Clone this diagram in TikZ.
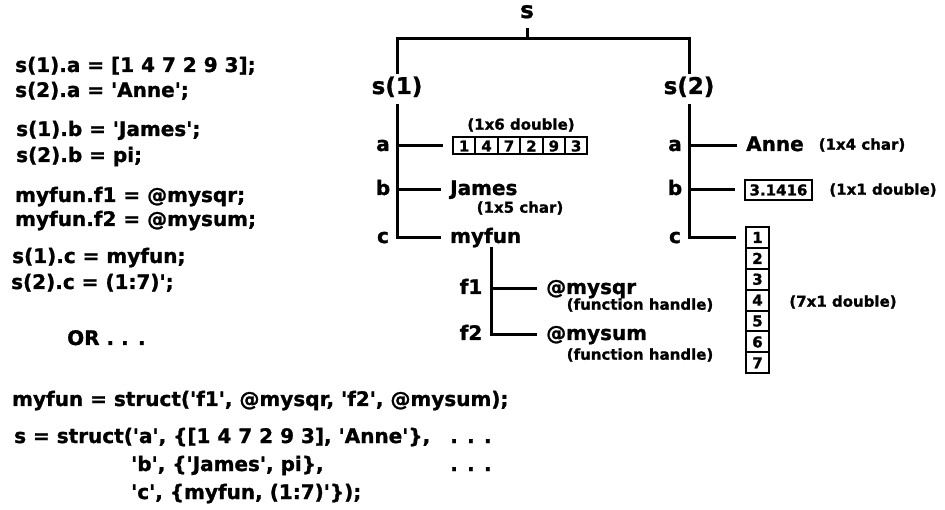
\documentclass[tikz,border=0pt]{standalone}
\usepackage{fontspec}
\setmainfont{DejaVu Sans}[BoldFeatures={FakeBold=1.2}]
\usetikzlibrary{positioning}
\newcommand{\apos}{\textquotesingle}
\tikzset{
codeline/.style={anchor=west,inner sep=0pt,font=\fontsize{20}{24}\selectfont\bfseries,text height=15pt,text depth=5pt},
heading/.style={inner sep=3.5pt,font=\fontsize{23}{26}\selectfont\bfseries,text height=16pt,text depth=6pt},
field/.style={inner sep=0pt,font=\fontsize{20}{24}\selectfont\bfseries,text height=14pt,text depth=4pt},
value/.style={field,anchor=west},
note/.style={inner sep=0pt,font=\fontsize{15}{17}\selectfont\bfseries},
cell/.style={draw,line width=2pt,inner sep=0pt,minimum width=22.4pt,minimum height=17pt,font=\fontsize{15}{17}\selectfont\bfseries},
branch/.style={line width=3pt},
stub/.style={branch,shorten >=9pt},
}

\begin{document}
\begin{tikzpicture}[x=1pt,y=-1pt]
    \useasboundingbox (0,0) rectangle (945,510);

    \node[codeline] (l1) at (15,67) {s(1).a = [1 4 7 2 9 3];};
    \node[codeline] (l2) at (15,92) {s(2).a = \apos Anne\apos;};
    \node[codeline] (l3) at (16,131) {s(1).b = \apos James\apos;};
    \node[codeline] (l4) at (16,157) {s(2).b = pi;};
    \node[codeline] (l5) at (15,197) {myfun.f1 = @mysqr;};
    \node[codeline] (l6) at (15,221) {myfun.f2 = @mysum;};
    \node[codeline] (l7) at (12,258) {s(1).c = myfun;};
    \node[codeline] (l8) at (11,284) {s(2).c = (1:7)\apos;};
    \node[codeline] (or) at (67,340) {OR . . .};

    \node[codeline] (m1) at (12,401) {myfun = struct(\apos f1\apos, @mysqr, \apos f2\apos, @mysum);};
    \node[codeline] (m2) at (14,438) {s = struct(\apos a\apos, \{[1 4 7 2 9 3], \apos Anne\apos\},};
    \node[codeline] (m3) at (131,466) {\apos b\apos, \{\apos James\apos, pi\},};
    \node[codeline] (m4) at (131,494) {\apos c\apos, \{myfun, (1:7)\apos\});};
    \node[codeline] (dots1) at (450,438) {. . .};
    \node[codeline] (dots2) at (450,466) {. . .};

    \node[heading] (s) at (527,13) {s};
    \node[heading] (s1) at (397,89) {s(1)};
    \node[heading] (s2) at (689,89) {s(2)};
    \coordinate (top) at (527,39);
    \draw[branch] (s) -- (top);
    \draw[branch] (s1) |- (top) -| (s2);

    \node[field] (fa1) at (383,146) {a};
    \node[field] (fb1) at (383,190) {b};
    \node[field] (fc1) at (383,238) {c};
    \foreach \v [count=\i] in {1,4,7,2,9,3}
        \node[cell] (arr\i) at ({453+22.4*(\i-0.5)},146) {\v};
    \node[note] (arrnote) at (521,125) {(1x6 double)};
    \node[value] (james) at (450,190) {James};
    \node[note] (jamesnote) at (520,208) {(1x5 char)};
    \node[value] (myfun) at (450,238) {myfun};

    \draw[stub] (s1) |- (myfun.west);
    \draw[stub] (s1 |- arr1) -- (arr1.west);
    \draw[stub] (s1 |- james) -- (james.west);

    \coordinate (fjoint) at ([xshift=5.5pt]myfun.south);
    \node[field] (f1) at (471,289) {f1};
    \node[field] (f2) at (471,335) {f2};
    \node[value] (mysqr) at (546,289) {@mysqr};
    \node[note] (sqrnote) at (640,305) {(function handle)};
    \node[value] (mysum) at (546,335) {@mysum};
    \node[note] (sumnote) at (640,355) {(function handle)};
    \draw[stub] (fjoint) |- (mysum.west);
    \draw[stub] (fjoint |- mysqr) -- (mysqr.west);

    \node[field] (fa2) at (675,146) {a};
    \node[field] (fb2) at (675,190) {b};
    \node[field] (fc2) at (675,238) {c};
    \node[value] (anne) at (746,146) {Anne};
    \node[note] (annenote) at (862,145) {(1x4 char)};
    \node[cell,minimum width=67pt,minimum height=20pt] (pi) at (778.5,190) {3.1416};
    \node[note] (pinote) at (883,190) {(1x1 double)};
    \foreach \i in {1,...,7}
        \node[cell,minimum width=23pt,minimum height=20.9pt] (col\i) at (757.5,{227+20.9*(\i-0.5)}) {\i};
    \node[note] (colnote) at (843,302) {(7x1 double)};

    \draw[stub] (s2) |- (col1.west);
    \draw[stub] (s2 |- anne) -- (anne.west);
    \draw[stub] (s2 |- pi) -- (pi.west);
\end{tikzpicture}
\end{document}
